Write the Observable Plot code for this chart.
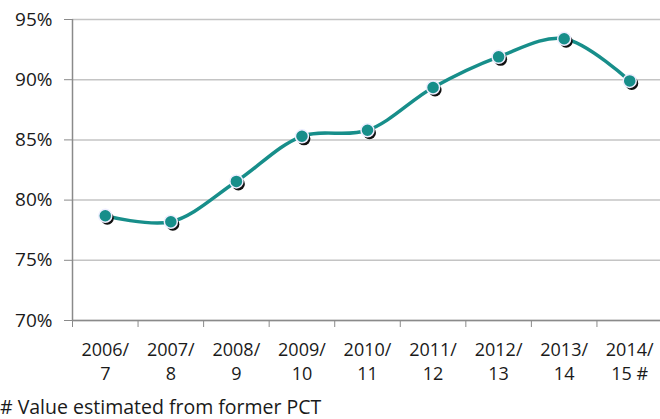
<!DOCTYPE html>
<html>
<head>
<meta charset="utf-8">
<script src="https://cdn.jsdelivr.net/npm/d3@7"></script>
<script src="https://cdn.jsdelivr.net/npm/@observablehq/plot@0.6"></script>
<style>
  html, body { margin: 0; padding: 0; background: #fff; }
  #chart { width: 660px; height: 419px; position: relative; font-family: "Open Sans", sans-serif; }
  #note { position: absolute; left: 0px; top: 393px; font-size: 19.5px; color: #1a1a1a; white-space: nowrap; }
</style>
</head>
<body>
<div id="chart"></div>
<script>
const periods = ["2006/\n7", "2007/\n8", "2008/\n9", "2009/\n10", "2010/\n11", "2011/\n12", "2012/\n13", "2013/\n14", "2014/\n15 #"];
const values = [78.7, 78.2, 81.55, 85.3, 85.8, 89.35, 91.9, 93.4, 89.9];
const yTicks = [70, 75, 80, 85, 90, 95];
const note = "# Value estimated from former PCT";

const data = periods.map((p, i) => ({i, period: p, value: values[i]}));
const boundaries = periods.map((p, i) => i - 0.5);

const teal = "#178e8a";
const axisGrey = "#8a8a8a";

const plot = Plot.plot({
  width: 660,
  height: 392,
  marginTop: 19,
  marginBottom: 72,
  marginLeft: 72,
  marginRight: 0,
  style: {fontFamily: "Open Sans, sans-serif", fontSize: "17px", color: "#1a1a1a", background: "#fff"},
  x: {type: "linear", domain: [-0.5, periods.length - 0.5], range: [72, 662]},
  y: {domain: [70, 95]},
  marks: [
    Plot.gridY(yTicks, {stroke: "#c4c4c4", strokeOpacity: 1, strokeWidth: 1.5}),
    Plot.ruleY([70], {stroke: axisGrey, strokeWidth: 1.5}),
    Plot.ruleX([-0.5], {stroke: axisGrey, strokeWidth: 1.5}),
    Plot.axisY({ticks: yTicks, tickFormat: d => d + "%", tickSize: 8, tickPadding: 12, stroke: axisGrey, fontSize: 19, label: null}),
    Plot.axisX({ticks: boundaries, tickFormat: () => "", tickSize: 7, stroke: axisGrey, label: null}),
    Plot.axisX({ticks: d3.range(periods.length), tickFormat: i => periods[i], tickSize: 0, tickPadding: 18, lineHeight: 1.35, fontSize: 18, label: null}),
    Plot.line(data, {x: "i", y: "value", curve: "catmull-rom", stroke: teal, strokeWidth: 3.5}),
    Plot.dot(data, {x: "i", y: "value", r: 6.5, fill: "#111", dx: 2, dy: 2.5}),
    Plot.dot(data, {x: "i", y: "value", r: 6.5, fill: teal, stroke: "#eef", strokeWidth: 1.5})
  ]
});
const chart = document.getElementById("chart");
chart.appendChild(plot);
const n = document.createElement("div");
n.id = "note";
n.textContent = note;
chart.appendChild(n);
</script>
</body>
</html>
